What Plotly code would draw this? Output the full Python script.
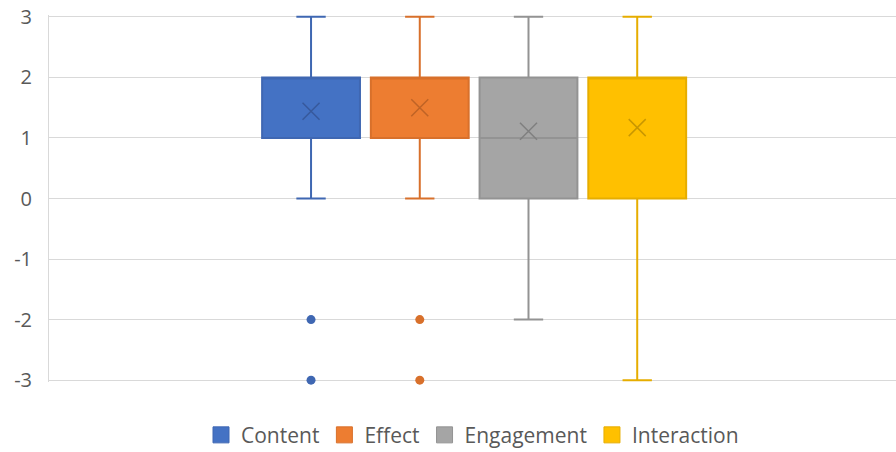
import plotly.graph_objects as go

# Five-number summaries per dimension
series = ["Content", "Effect", "Engagement", "Interaction"]
lower_whisker = [0, 0, -2, -3]
q1_values = [1, 1, 0, 0]
medians = [2, 2, 1, 2]
q3_values = [2, 2, 2, 2]
upper_whisker = [3, 3, 3, 3]
means = [1.44, 1.50, 1.11, 1.17]
outliers = {"Content": [-2, -3], "Effect": [-2, -3], "Engagement": [], "Interaction": []}

fill_colors = ["#4472C4", "#ED7D31", "#A5A5A5", "#FFC000"]
line_colors = ["#3F67B2", "#D8702B", "#939393", "#E6AD00"]
mark_colors = ["#37599C", "#BF6326", "#7F7F7F", "#C99700"]

y_ticks = [3, 2, 1, 0, -1, -2, -3]

fig = go.Figure()

for i, name in enumerate(series):
    fig.add_trace(go.Box(
        x=[name],
        q1=[q1_values[i]], median=[medians[i]], q3=[q3_values[i]],
        lowerfence=[lower_whisker[i]], upperfence=[upper_whisker[i]],
        name=name,
        fillcolor=fill_colors[i],
        line=dict(color=line_colors[i], width=2),
        width=0.9,
        whiskerwidth=0.3,
        boxpoints=False,
        showlegend=False,
        hoverinfo="skip",
    ))
    # mean marker
    fig.add_trace(go.Scatter(
        x=[name], y=[means[i]], mode="markers", cliponaxis=False,
        marker=dict(symbol="x-thin", size=17, line=dict(color=mark_colors[i], width=1.5)),
        showlegend=False, hoverinfo="skip",
    ))
    # outlier points
    if outliers[name]:
        fig.add_trace(go.Scatter(
            x=[name] * len(outliers[name]), y=outliers[name], mode="markers",
            cliponaxis=False,
            marker=dict(symbol="circle", size=9, color=line_colors[i]),
            showlegend=False, hoverinfo="skip",
        ))
    # legend swatch
    fig.add_trace(go.Scatter(
        x=[None], y=[None], mode="markers", name=name,
        marker=dict(symbol="square", size=20, color=fill_colors[i],
                    line=dict(color=line_colors[i], width=1)),
    ))

fig.update_layout(
    width=896, height=452,
    margin=dict(l=49, r=0, t=15, b=70, autoexpand=False),
    paper_bgcolor="white", plot_bgcolor="white",
    font=dict(family="Open Sans", size=20, color="#595959"),
    legend=dict(orientation="h", x=0.5, xanchor="center", y=-0.145, yanchor="middle",
                font=dict(size=21, color="#595959"), itemclick=False,
                tracegroupgap=0, borderwidth=0),
    xaxis=dict(type="category", categoryorder="array", categoryarray=series,
               range=[-2.41, 5.38], showticklabels=False, showgrid=False,
               zeroline=False, showline=False, ticks=""),
    yaxis=dict(range=[-3.03, 3.03], tickvals=y_ticks, ticktext=[str(v) for v in y_ticks],
               showgrid=True, gridcolor="#D9D9D9", gridwidth=1,
               zeroline=False, showline=True, linecolor="#D9D9D9", linewidth=1,
               ticks="", ticklabelstandoff=12),
)

fig.write_html("out.html")
